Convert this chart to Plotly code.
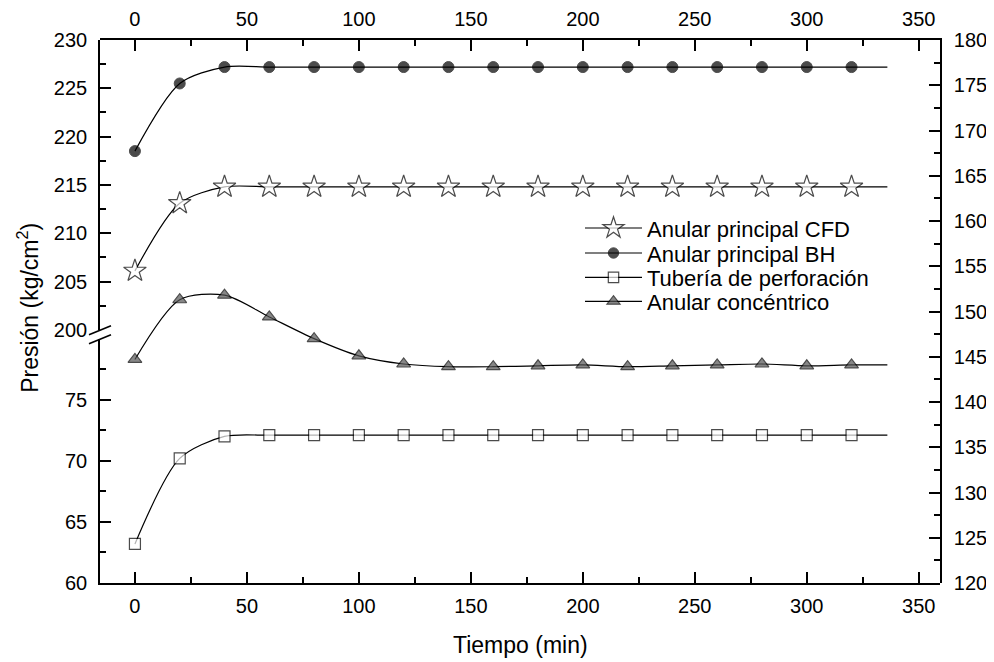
import plotly.graph_objects as go

# ---------------- data ----------------
tiempo = [0, 20, 40, 60, 80, 100, 120, 140, 160, 180, 200, 220, 240, 260, 280, 300, 320]
t_fin = 336  # the curves continue a bit past the last marker

cfd = [206.1, 213.1, 214.8, 214.8, 214.8, 214.8, 214.8, 214.8, 214.8, 214.8,
       214.8, 214.8, 214.8, 214.8, 214.8, 214.8, 214.8]
bh = [218.5, 225.5, 227.2, 227.2, 227.2, 227.2, 227.2, 227.2, 227.2, 227.2,
      227.2, 227.2, 227.2, 227.2, 227.2, 227.2, 227.2]
tuberia = [63.2, 70.2, 72.0, 72.1, 72.1, 72.1, 72.1, 72.1, 72.1, 72.1,
           72.1, 72.1, 72.1, 72.1, 72.1, 72.1, 72.1]
concentrico = [144.7, 151.3, 151.8, 149.4, 147.0, 145.1, 144.2, 143.9, 143.9, 144.0,
               144.1, 143.9, 144.0, 144.1, 144.2, 144.0, 144.1]

nombres = ["Anular principal CFD", "Anular principal BH",
           "Tubería de perforación", "Anular concéntrico"]

x_ticks = [0, 50, 100, 150, 200, 250, 300, 350]
y_low_ticks = [60, 65, 70, 75]
y_up_ticks = [200, 205, 210, 215, 220, 225, 230]
y_right_ticks = [120, 125, 130, 135, 140, 145, 150, 155, 160, 165, 170, 175, 180]

FONT = "Liberation Sans, Arial, Helvetica, sans-serif"

def ext(vals):
    return tiempo + [t_fin], vals + [vals[-1]]

def sizes(s):
    return [s] * len(tiempo) + [0]

fig = go.Figure()

series = [
    (cfd, "y3", dict(symbol="star", size=17, color="white", line=dict(color="black", width=1.2)), "legend"),
    (bh, "y3", dict(symbol="circle", size=11, color="black", line=dict(color="black", width=1)), "legend2"),
    (tuberia, "y2", dict(symbol="square", size=11, color="white", line=dict(color="black", width=1.2)), "legend3"),
    (concentrico, "y", dict(symbol="triangle-up", size=12, color="#555555", line=dict(color="black", width=1.2)), "legend4"),
]
for (vals, ax, mk, lg), name in zip(series, nombres):
    xx, yy = ext(vals)
    mk = dict(mk)
    mk["size"] = sizes(mk["size"])
    fig.add_trace(go.Scatter(
        x=xx, y=yy, name=name, mode="lines+markers", yaxis=ax, xaxis="x",
        line=dict(color="black", width=1.2, shape="spline", smoothing=0.8),
        marker=mk, legend=lg, cliponaxis=False,
    ))

# invisible trace so the top axis is drawn
fig.add_trace(go.Scatter(x=[0], y=[150], xaxis="x2", yaxis="y", mode="markers",
                         marker=dict(opacity=0), showlegend=False, hoverinfo="skip"))

# ---------------- layout geometry ----------------
# the page places the figure 8px right / 8px down, so the figure is made 8px smaller
OFF = 8
W, H = 994 - OFF, 662 - OFF
PL, PR, PT, PB = 100, 940, 40, 583.3   # plot box in screen pixels
L, R, T = PL - OFF, W - (PR - OFF), PT - OFF
B = H - (PB - OFF)
PH = PB - PT
PW = PR - PL

def yp(py):
    return (PB - py) / PH

def xp(px):
    return (px - PL) / PW

axis_common = dict(showline=True, linecolor="black", linewidth=1.6, ticks="inside",
                   ticklen=11, tickwidth=1.6, tickcolor="black", showgrid=False,
                   zeroline=False, automargin=False,
                   tickfont=dict(family=FONT, size=20, color="black"))

def minor(dt, t0):
    return dict(ticks="inside", ticklen=6, tickwidth=1.6, dtick=dt, tick0=t0, tickcolor="black")

fig.update_layout(
    width=W, height=H,
    margin=dict(l=L, r=R, t=T, b=B, autoexpand=False),
    paper_bgcolor="white", plot_bgcolor="rgba(0,0,0,0)",
    font=dict(family=FONT, color="black"),
    xaxis=dict(range=[-15.6, 359.5], tickvals=x_ticks, anchor="y2",
               minor=minor(25, 0), ticklabelstandoff=4, **axis_common),
    xaxis2=dict(range=[-15.6, 359.5], tickvals=x_ticks, overlaying="x", side="top",
                anchor="y3", matches="x", minor=minor(25, 0),
                ticklabelstandoff=4, **axis_common),
    yaxis=dict(range=[120, 180], domain=[0, 1], side="right", anchor="x",
               tickvals=y_right_ticks, minor=minor(2.5, 120),
               ticklabelstandoff=8, **axis_common),
    yaxis2=dict(range=[60, 80], domain=[0, yp(338.9)], side="left", anchor="x",
                tickvals=y_low_ticks, minor=minor(2.5, 60),
                ticklabelstandoff=7, **axis_common),
    yaxis3=dict(range=[200, 230], domain=[yp(330), 1], side="left", anchor="x",
                tickvals=y_up_ticks, minor=minor(2.5, 200),
                ticklabelstandoff=7, **axis_common),
)

leg_font = dict(family=FONT, size=22, color="black")
leg_rows = [228.3, 253.3, 277.7, 301.7]
for key, py in zip(["legend", "legend2", "legend3", "legend4"], leg_rows):
    fig.update_layout({key: dict(x=xp(580), y=yp(py), xanchor="left", yanchor="middle",
                                 bgcolor="rgba(0,0,0,0)", borderwidth=0, font=leg_font,
                                 itemwidth=57, tracegroupgap=0)})

# axis titles
fig.add_annotation(text="Presión (kg/cm<sup>2</sup>)", x=xp(28), y=yp(308), xref="paper", yref="paper",
                   textangle=-90, showarrow=False, font=dict(family=FONT, size=23, color="black"),
                   xanchor="center", yanchor="middle")
fig.add_annotation(text="Tiempo (min)", x=xp(520), y=yp(645), xref="paper", yref="paper",
                   showarrow=False, font=dict(family=FONT, size=23, color="black"),
                   xanchor="center", yanchor="middle")

# axis break marks
for y0, y1 in [(335, 326), (344, 335)]:
    fig.add_shape(type="line", xref="paper", yref="paper",
                  x0=xp(89), y0=yp(y0), x1=xp(111), y1=yp(y1),
                  line=dict(color="black", width=1.6))

fig.write_html("out.html")
